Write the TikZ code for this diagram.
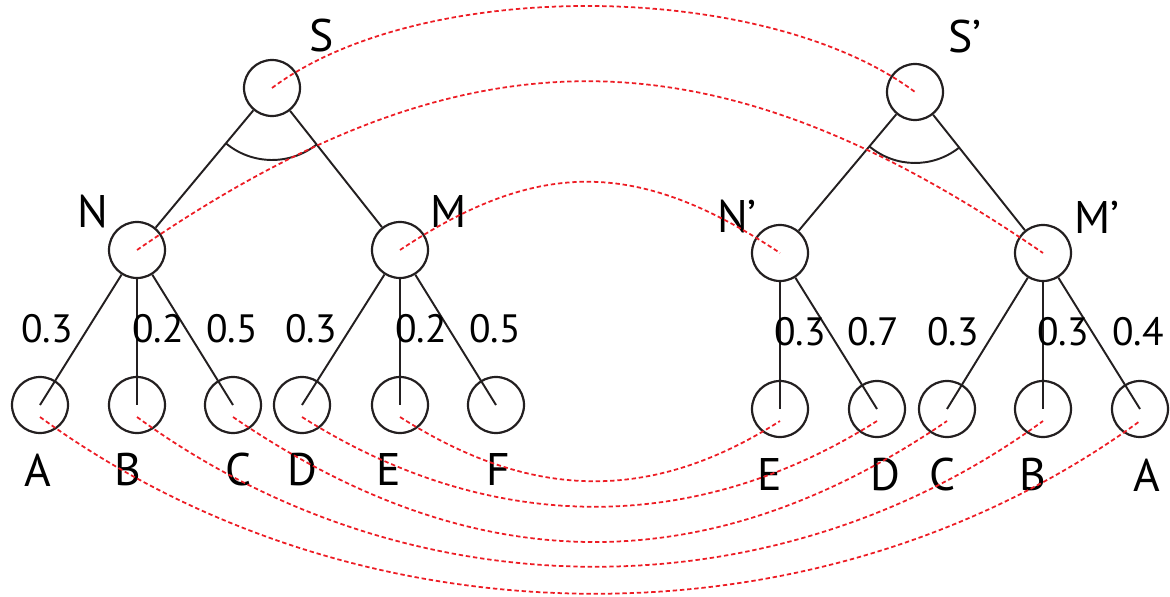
\documentclass[tikz,border=0pt]{standalone}
\usepackage{fontspec}
\setmainfont{PT Sans}
\definecolor{treeLine}{HTML}{231F20}
\definecolor{treeLink}{HTML}{ED1C24}

\begin{document}
\begin{tikzpicture}[
    x=0.02cm,y=0.02cm,
    every node/.style={font=\fontsize{26}{30}\selectfont,inner sep=0pt},
    vertex/.style={circle,draw=treeLine,line width=1.25pt,minimum size=1.12cm},
    weight/.style={font=\fontsize{22.5}{26}\selectfont},
    edge/.style={draw=treeLine,line width=1.1pt},
    link/.style={draw=treeLink,line width=1pt,dash pattern=on 2.5pt off 1.6pt}
]
\useasboundingbox (0,0) rectangle (1170,596);

% left tree
\node[vertex] (S) at (272,508) {};
\node[vertex] (N) at (137,346) {};
\node[vertex] (M) at (400,346) {};
\node[vertex] (A) at (40,191) {};
\node[vertex] (B) at (137,191) {};
\node[vertex] (C) at (233,191) {};
\node[vertex] (D) at (302,191) {};
\node[vertex] (E) at (400,191) {};
\node[vertex] (F) at (496,191) {};
\draw[edge] (S) -- (N);
\draw[edge] (S) -- (M);
\draw[edge] (S.center) ++(230:1.44cm) arc[start angle=230,end angle=308,radius=1.44cm];
\draw[edge] (N) -- (A.center);
\draw[edge] (N) -- (B.center);
\draw[edge] (N) -- (C.center);
\draw[edge] (M) -- (D.center);
\draw[edge] (M) -- (E.center);
\draw[edge] (M) -- (F.center);

\node (Slabel) at (322,560) {S};
\node (Nlabel) at (93,384) {N};
\node (Mlabel) at (449,384) {M};
\node (Alabel) at (38,126) {A};
\node (Blabel) at (128,126) {B};
\node (Clabel) at (239,126) {C};
\node (Dlabel) at (302,126) {D};
\node (Elabel) at (389,126) {E};
\node (Flabel) at (498,126) {F};
\node[weight] (wNA) at (47,267) {0.3};
\node[weight] (wNB) at (158,267) {0.2};
\node[weight] (wNC) at (232,267) {0.5};
\node[weight] (wMD) at (311,267) {0.3};
\node[weight] (wME) at (421,267) {0.2};
\node[weight] (wMF) at (495,267) {0.5};

% right tree
\node[vertex] (S2) at (915,504) {};
\node[vertex] (N2) at (780,343) {};
\node[vertex] (M2) at (1043,343) {};
\node[vertex] (E2) at (780,187) {};
\node[vertex] (D2) at (877,187) {};
\node[vertex] (C2) at (947,187) {};
\node[vertex] (B2) at (1043,187) {};
\node[vertex] (A2) at (1140,187) {};
\draw[edge] (S2) -- (N2);
\draw[edge] (S2) -- (M2);
\draw[edge] (S2.center) ++(230:1.42cm) arc[start angle=230,end angle=308,radius=1.42cm];
\draw[edge] (N2) -- (E2.center);
\draw[edge] (N2) -- (D2.center);
\draw[edge] (M2) -- (C2.center);
\draw[edge] (M2) -- (B2.center);
\draw[edge] (M2) -- (A2.center);

\node (S2label) at (965,559) {S’};
\node (N2label) at (737,379) {N’};
\node (M2label) at (1097,379) {M’};
\node (E2label) at (770,121) {E};
\node (D2label) at (885,121) {D};
\node (C2label) at (943,121) {C};
\node (B2label) at (1033,121) {B};
\node (A2label) at (1147,121) {A};
\node[weight] (wN2E) at (800,264) {0.3};
\node[weight] (wN2D) at (873,264) {0.7};
\node[weight] (wM2C) at (953,264) {0.3};
\node[weight] (wM2B) at (1063,264) {0.3};
\node[weight] (wM2A) at (1138,264) {0.4};

% correspondences
\draw[link] (S.center) .. controls +(150,112) and +(-150,112) .. (S2.center);
\draw[link] (N.center) .. controls +(330,227) and +(-330,227) .. (M2.center);
\draw[link] (M.center) .. controls +(140,93) and +(-140,93) .. (N2.center);
\draw[link] ([yshift=-0.24cm]A.center) .. controls +(320,-233) and +(-320,-233) .. ([yshift=-0.24cm]A2.center);
\draw[link] ([yshift=-0.24cm]B.center) .. controls +(270,-197) and +(-270,-197) .. ([yshift=-0.24cm]B2.center);
\draw[link] ([yshift=-0.24cm]C.center) .. controls +(240,-164) and +(-240,-164) .. ([yshift=-0.24cm]C2.center);
\draw[link] ([yshift=-0.24cm]D.center) .. controls +(185,-117) and +(-185,-117) .. ([yshift=-0.24cm]D2.center);
\draw[link] ([yshift=-0.24cm]E.center) .. controls +(130,-83) and +(-130,-83) .. ([yshift=-0.24cm]E2.center);
\end{tikzpicture}
\end{document}
